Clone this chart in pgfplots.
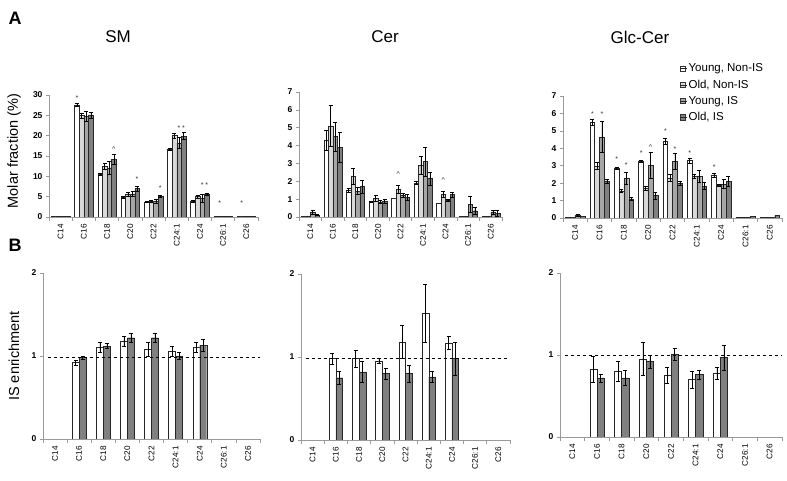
\documentclass[border=0pt]{standalone}
\usepackage{pgfplots}
\pgfplotsset{compat=1.18}
\usepackage{fontspec}
\setmainfont{Liberation Sans}
\definecolor{cA}{HTML}{FFFFFF}
\definecolor{cB}{HTML}{D9D9D9}
\definecolor{cC}{HTML}{A6A6A6}
\definecolor{cD}{HTML}{808080}
\definecolor{axgray}{HTML}{9A9A9A}

\tikzset{star/.style={font=\fontsize{7}{7}\selectfont, inner sep=0pt, text=black!80}}
\pgfplotsset{
  panel/.style={
    scale only axis, anchor=south west,
    axis x line*=bottom, axis y line*=left,
    axis line style={axgray, line width=0.6pt},
    xmin=-0.5, xmax=8.5, ymin=0,
    xtick={0,...,8},
    xticklabels={C14,C16,C18,C20,C22,C24:1,C24,C26:1,C26},
    major x tick style={draw=none},
    minor xtick={-0.5,0.5,...,8.5},
    minor x tick style={axgray, line width=0.6pt},
    ytick style={axgray, line width=0.6pt},
    tick align=outside,
    minor tick length=4pt, major tick length=3pt,
    xticklabel style={rotate=90, anchor=east, font=\fontsize{8.2}{9}\selectfont, inner sep=1pt, xshift=-3pt},
    yticklabel style={font=\bfseries\fontsize{8.5}{9}\selectfont},
    /pgf/number format/assume math mode=true,
    ybar=0pt,
    error bars/y dir=both, error bars/y explicit,
    error bars/error bar style={black, line width=0.5pt},
    error bars/error mark options={rotate=90, mark size=2pt, black, line width=0.5pt},
    every axis plot/.append style={draw=black!85, line width=0.4pt},
    legend image code/.code={\draw[#1, draw=black!80, line width=0.5pt] (0pt,-2.6pt) rectangle (5.2pt,2.6pt); \path (0pt,0pt) -- (7pt,0pt);},
  },
  pA/.style={panel, bar width=0.2},
  pB/.style={panel, bar width=0.29, ymax=2, ytick={0,1,2}},
}

\begin{document}
\begin{tikzpicture}
\useasboundingbox (0pt,0pt) rectangle (787pt,481pt);

% panel letters and titles
\node[font=\bfseries\fontsize{18}{18}\selectfont] at (15pt,463pt) {A};
\node[font=\bfseries\fontsize{18}{18}\selectfont] at (15pt,236pt) {B};
\node[font=\fontsize{17}{17}\selectfont] at (118pt,444pt) {SM};
\node[font=\fontsize{17}{17}\selectfont] at (385pt,444pt) {Cer};
\node[font=\fontsize{17}{17}\selectfont] at (640pt,444pt) {Glc-Cer};
\node[font=\fontsize{14.5}{15}\selectfont, rotate=90] at (14pt,330pt) {Molar fraction (\%)};
\node[font=\fontsize{14.5}{15}\selectfont, rotate=90] at (14pt,125pt) {IS enrichment};

% ---------------- A: SM
\begin{axis}[pA, at={(49pt,264pt)}, width=209pt, height=122pt, ymax=30, ytick={0,5,...,30}]
\addplot[fill=cA] coordinates {(0,0.2) (1,27.6) +- (0,0.3) (2,10.5) +- (0,0.2) (3,4.9) +- (0,0.2) (4,3.7) +- (0,0.1) (5,16.7) +- (0,0.2) (6,3.9) +- (0,0.3) (7,0.1) (8,0.1)};
\addplot[fill=cB] coordinates {(0,0.2) (1,25.0) +- (0,0.6) (2,12.5) +- (0,0.8) (3,5.6) +- (0,0.4) (4,3.9) +- (0,0.2) (5,20.0) +- (0,0.7) (6,5.0) +- (0,0.3) (7,0.1) (8,0.1)};
\addplot[fill=cC] coordinates {(0,0.2) (1,24.8) +- (0,1.2) (2,12.1) +- (0,1.6) (3,5.7) +- (0,0.7) (4,3.9) +- (0,0.4) (5,18.2) +- (0,1.3) (6,4.6) +- (0,0.9) (7,0.1) (8,0.1)};
\addplot[fill=cD] coordinates {(0,0.2) (1,25.0) +- (0,0.8) (2,14.2) +- (0,1.3) (3,7.0) +- (0,0.6) (4,5.1) +- (0,0.3) (5,19.9) +- (0,0.9) (6,5.6) +- (0,0.3) (7,0.1) (8,0.1)};
\node[star] at (axis cs:0.71,29.3) {*};
\node[star] at (axis cs:2.29,16.6) {\textasciicircum};
\node[star] at (axis cs:3.29,9.3) {*};
\node[star] at (axis cs:4.29,7.1) {*};
\node[star] at (axis cs:5.1,21.8) {*};
\node[star] at (axis cs:5.29,21.8) {*};
\node[star] at (axis cs:6.1,7.9) {*};
\node[star] at (axis cs:6.29,7.9) {*};
\node[star] at (axis cs:6.85,3.4) {*};
\node[star] at (axis cs:7.8,3.4) {*};
\end{axis}

% ---------------- A: Cer
\begin{axis}[pA, at={(299pt,264pt)}, width=203pt, height=125pt, ymax=7, ytick={0,...,7}]
\addplot[fill=cA] coordinates {(0,0.02) (1,4.3) +- (0,0.55) (2,1.5) +- (0,0.1) (3,0.85) +- (0,0.05) (4,1.05) (5,1.9) +- (0,0.08) (6,0.8) (7,0.03) (8,0.02)};
\addplot[fill=cB] coordinates {(0,0.03) (1,5.1) +- (0,1.15) (2,2.3) +- (0,0.45) (3,1.05) +- (0,0.15) (4,1.55) +- (0,0.2) (5,2.9) +- (0,0.5) (6,1.25) +- (0,0.17) (7,0.05) (8,0.03)};
\addplot[fill=cC] coordinates {(0,0.28) +- (0,0.12) (1,4.5) +- (0,0.8) (2,1.45) +- (0,0.2) (3,0.85) +- (0,0.1) (4,1.2) +- (0,0.12) (5,3.1) +- (0,0.8) (6,0.95) +- (0,0.05) (7,0.7) +- (0,0.45) (8,0.25) +- (0,0.12)};
\addplot[fill=cD] coordinates {(0,0.12) +- (0,0.03) (1,3.9) +- (0,0.85) (2,1.7) +- (0,0.35) (3,0.9) +- (0,0.12) (4,1.1) +- (0,0.15) (5,2.15) +- (0,0.35) (6,1.25) +- (0,0.15) (7,0.35) +- (0,0.2) (8,0.2) +- (0,0.15)};
\node[star] at (axis cs:3.9,2.4) {\textasciicircum};
\node[star] at (axis cs:5.9,2.05) {\textasciicircum};
\end{axis}

% ---------------- A: Glc-Cer
\begin{axis}[pA, at={(563pt,263pt)}, width=219pt, height=122pt, ymax=7, ytick={0,...,7},
  legend style={at={(0.534,1.275)}, anchor=north west, draw=none, fill=none,
    font=\fontsize{11.5}{12}\selectfont, inner sep=0pt, row sep=4.6pt,
    nodes={inner sep=1pt}},
  legend cell align=left]
\addplot[fill=cA] coordinates {(0,0.05) (1,5.5) +- (0,0.15) (2,2.85) +- (0,0.08) (3,3.25) +- (0,0.08) (4,4.4) +- (0,0.15) (5,3.3) +- (0,0.15) (6,2.45) +- (0,0.12) (7,0.05) (8,0.05)};
\addplot[fill=cB] coordinates {(0,0.05) (1,3.0) +- (0,0.2) (2,1.55) +- (0,0.1) (3,1.7) +- (0,0.1) (4,2.3) +- (0,0.2) (5,2.4) +- (0,0.1) (6,1.9) +- (0,0.05) (7,0.05) (8,0.05)};
\addplot[fill=cC] coordinates {(0,0.15) +- (0,0.05) (1,4.65) +- (0,0.9) (2,2.3) +- (0,0.35) (3,3.05) +- (0,0.75) (4,3.25) +- (0,0.45) (5,2.4) +- (0,0.35) (6,1.95) +- (0,0.25) (7,0.05) (8,0.05)};
\addplot[fill=cD] coordinates {(0,0.08) (1,2.1) +- (0,0.1) (2,1.1) +- (0,0.1) (3,1.3) +- (0,0.2) (4,2.0) +- (0,0.1) (5,1.85) +- (0,0.2) (6,2.1) +- (0,0.3) (7,0.1) (8,0.15)};
\legend{{Young, Non-IS},{Old, Non-IS},{Young, IS},{Old, IS}}
\node[star] at (axis cs:0.71,5.94) {*};
\node[star] at (axis cs:1.1,5.94) {*};
\node[star] at (axis cs:1.71,3.38) {*};
\node[star] at (axis cs:2.1,3.04) {*};
\node[star] at (axis cs:2.71,3.75) {*};
\node[star] at (axis cs:3.1,4.06) {\textasciicircum};
\node[star] at (axis cs:3.71,4.97) {*};
\node[star] at (axis cs:4.1,3.95) {*};
\node[star] at (axis cs:4.71,3.7) {*};
\node[star] at (axis cs:5.71,2.9) {*};
\end{axis}

% ---------------- B: SM
\begin{axis}[pB, at={(43pt,42pt)}, width=217pt, height=166pt]
\addplot[fill=cA] coordinates {(1,0.92) +- (0,0.03) (2,1.1) +- (0,0.06) (3,1.18) +- (0,0.06) (4,1.08) +- (0,0.08) (5,1.06) +- (0,0.06) (6,1.1) +- (0,0.06)};
\addplot[fill=cD] coordinates {(1,0.98) +- (0,0.02) (2,1.12) +- (0,0.03) (3,1.22) +- (0,0.06) (4,1.22) +- (0,0.06) (5,1.0) +- (0,0.04) (6,1.13) +- (0,0.07)};
\draw[dashed, black, line width=0.5pt] (axis cs:-0.3,0.99) -- (axis cs:8.5,0.99);
\end{axis}

% ---------------- B: Cer
\begin{axis}[pB, at={(301pt,41pt)}, width=209pt, height=166pt]
\addplot[fill=cA] coordinates {(1,0.98) +- (0,0.07) (2,0.98) +- (0,0.1) (3,0.95) +- (0,0.03) (4,1.18) +- (0,0.2) (5,1.53) +- (0,0.35) (6,1.17) +- (0,0.08)};
\addplot[fill=cD] coordinates {(1,0.75) +- (0,0.08) (2,0.82) +- (0,0.13) (3,0.8) +- (0,0.07) (4,0.8) +- (0,0.1) (5,0.76) +- (0,0.07) (6,0.98) +- (0,0.2)};
\draw[dashed, black, line width=0.5pt] (axis cs:-0.3,0.99) -- (axis cs:8.5,0.99);
\end{axis}

% ---------------- B: Glc-Cer
\begin{axis}[pB, at={(560pt,44pt)}, width=222pt, height=164pt]
\addplot[fill=cA] coordinates {(1,0.83) +- (0,0.16) (2,0.8) +- (0,0.12) (3,0.95) +- (0,0.2) (4,0.75) +- (0,0.1) (5,0.7) +- (0,0.1) (6,0.78) +- (0,0.07)};
\addplot[fill=cD] coordinates {(1,0.72) +- (0,0.05) (2,0.72) +- (0,0.09) (3,0.92) +- (0,0.08) (4,1.01) +- (0,0.07) (5,0.76) +- (0,0.06) (6,0.97) +- (0,0.15)};
\draw[dashed, black, line width=0.5pt] (axis cs:-0.3,1) -- (axis cs:8.5,1);
\end{axis}
\end{tikzpicture}
\end{document}
